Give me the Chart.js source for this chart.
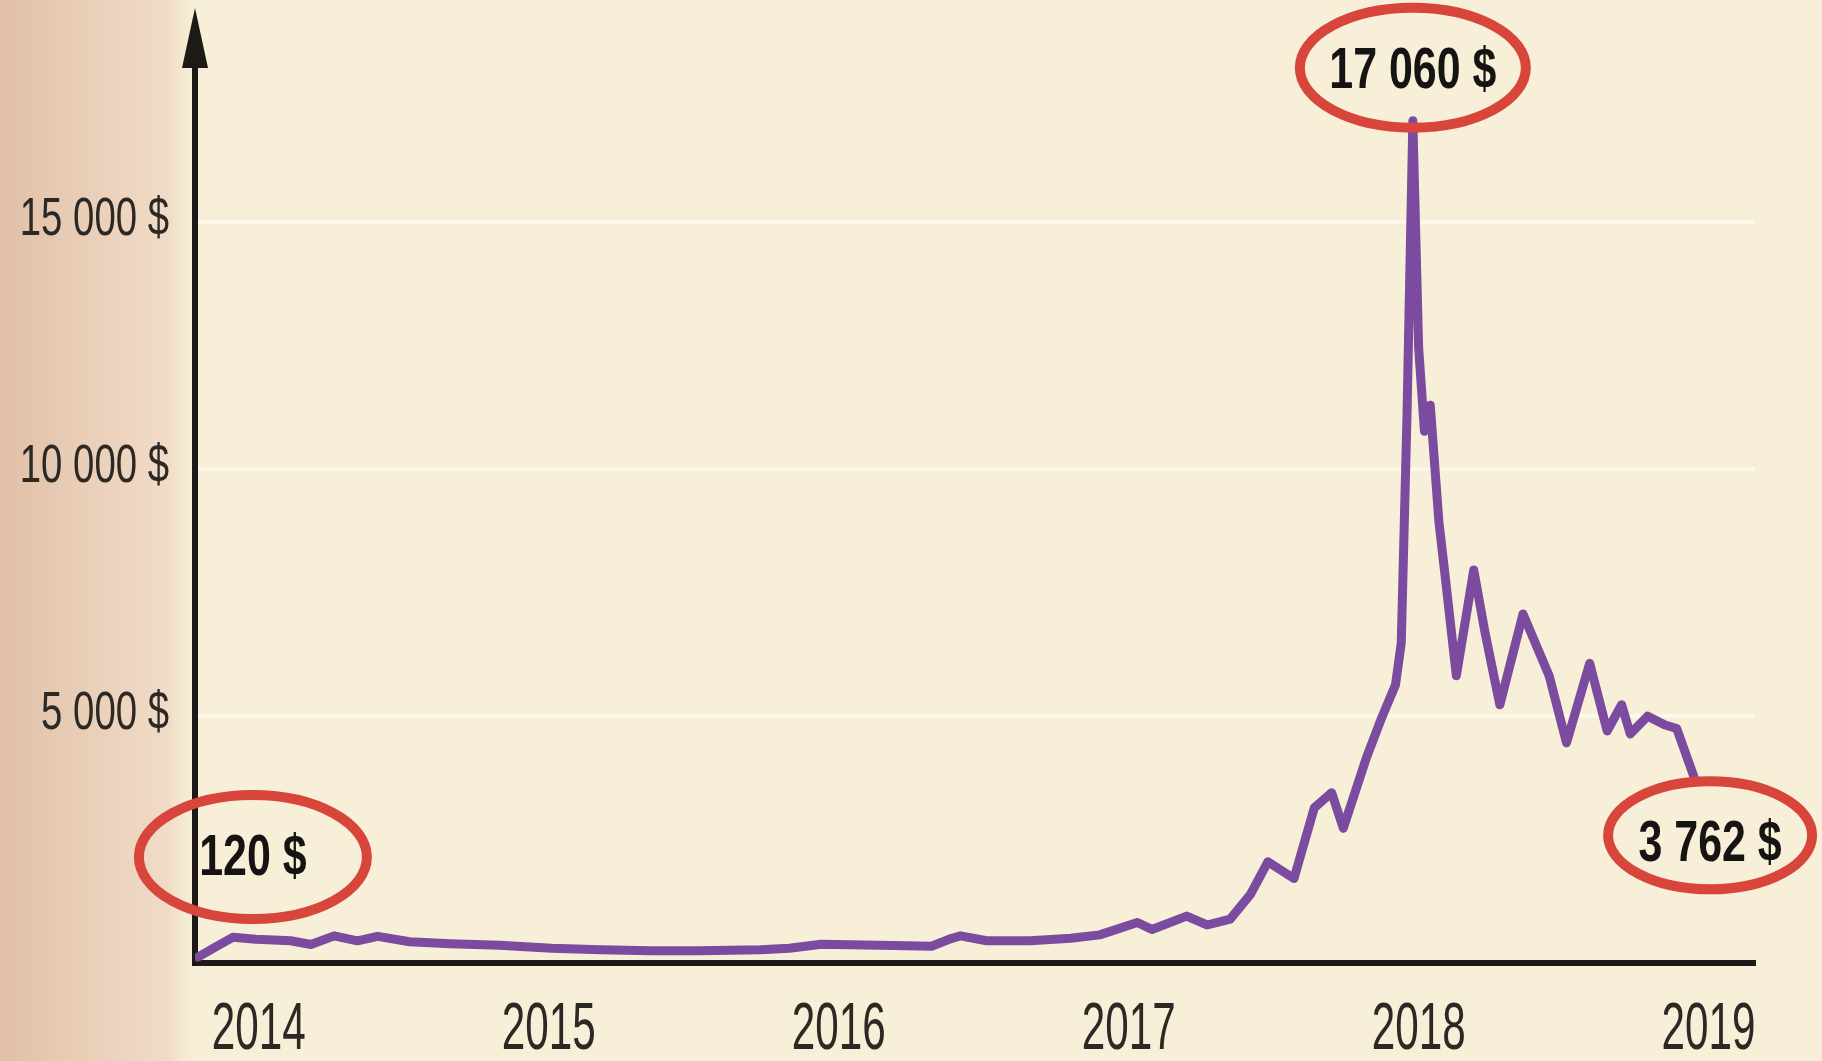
<!DOCTYPE html>
<html lang="fr">
<head>
<meta charset="utf-8">
<title>Cours du bitcoin 2014-2019</title>
<script src="https://cdn.jsdelivr.net/npm/chart.js@4.4.1/dist/chart.umd.min.js"></script>
<style>
  html, body { margin: 0; padding: 0; background: #f7efd7; overflow: hidden; }
  canvas { display: block; }
</style>
</head>
<body>
<canvas id="chart" width="1822" height="1061"></canvas>
<script>
// Bitcoin price in dollars, weekly-ish readings (decimal year)
const years = [
  2013.79, 2013.85, 2013.91, 2013.99, 2014.11, 2014.18, 2014.26, 2014.34, 2014.41, 2014.52,
  2014.66, 2014.83, 2015.01, 2015.18, 2015.35, 2015.52, 2015.73, 2015.83, 2015.94, 2016.14,
  2016.32, 2016.39, 2016.42, 2016.51, 2016.66, 2016.80, 2016.90, 2017.03, 2017.08, 2017.20,
  2017.27, 2017.35, 2017.42, 2017.48, 2017.57, 2017.64, 2017.70, 2017.74, 2017.82, 2017.87,
  2017.92, 2017.94, 2017.95, 2017.96, 2017.98, 2018.00, 2018.02, 2018.04, 2018.07, 2018.09,
  2018.13, 2018.19, 2018.23, 2018.28, 2018.36, 2018.45, 2018.51, 2018.59, 2018.65, 2018.70,
  2018.73, 2018.79, 2018.85, 2018.89, 2018.95
];
const prices = [
  120, 320, 520, 480, 450, 375, 550, 450, 540, 430,
  390, 360, 300, 270, 250, 250, 270, 300, 380, 360,
  340, 500, 550, 450, 450, 500, 570, 820, 680, 950,
  770, 890, 1390, 2050, 1710, 3140, 3450, 2730, 4160, 4930,
  5630, 6480, 8800, 11130, 17060, 12460, 10770, 11300, 8930, 7910,
  5820, 7960, 6660, 5230, 7070, 5820, 4460, 6070, 4700, 5230,
  4640, 5000, 4820, 4750, 3762
];

const yearTicks = [2014, 2015, 2016, 2017, 2018, 2019];
const priceTicks = [5000, 10000, 15000];

// Circled values: start, top and last point of the series
const calloutText = ['120 $', '17 060 $', '3 762 $'];

const FONT = "'Liberation Sans', Arial, sans-serif";
const INK = '#2c2824';
const AXIS = '#1c1917';

const formatDollars = v => String(v).replace(/\B(?=(\d{3})+(?!\d))/g, ' ') + ' $';

// Condensed lettering: the installed faces are too wide, so squeeze them
function drawNarrowText(ctx, text, x, y, squeeze, align) {
  ctx.save();
  ctx.translate(x, y);
  ctx.scale(squeeze, 1);
  ctx.textAlign = align;
  ctx.textBaseline = 'middle';
  ctx.fillText(text, 0, 0);
  ctx.restore();
}

// Paper tone with the darker strip along the left margin
const paperPlugin = {
  id: 'paper',
  beforeDraw(chart) {
    const { ctx, width, height } = chart;
    ctx.save();
    ctx.fillStyle = '#f7efd7';
    ctx.fillRect(0, 0, width, height);
    const edge = ctx.createLinearGradient(0, 0, 200, 0);
    edge.addColorStop(0, '#e0c0a7');
    edge.addColorStop(0.45, '#eacfb9');
    edge.addColorStop(0.85, '#f1dcc7');
    edge.addColorStop(1, 'rgba(247, 239, 215, 0)');
    ctx.fillStyle = edge;
    ctx.fillRect(0, 0, 200, height);
    ctx.restore();
  }
};

// Axis lettering, arrow head and the red rings round the key values
const calloutPlugin = {
  id: 'callouts',
  afterDraw(chart) {
    const { ctx, chartArea, scales: { x, y } } = chart;

    ctx.save();
    ctx.fillStyle = INK;
    ctx.font = `54px ${FONT}`;
    priceTicks.forEach(v => {
      drawNarrowText(ctx, formatDollars(v), chartArea.left - 26, y.getPixelForValue(v) - 2, 0.71, 'right');
    });
    ctx.font = `66px ${FONT}`;
    yearTicks.forEach(v => {
      drawNarrowText(ctx, String(v), x.getPixelForValue(v), chartArea.bottom + 68, 0.64, 'center');
    });

    ctx.fillStyle = AXIS;
    ctx.beginPath();
    ctx.moveTo(chartArea.left, 8);
    ctx.lineTo(chartArea.left - 13, 68);
    ctx.lineTo(chartArea.left + 13, 68);
    ctx.closePath();
    ctx.fill();

    const last = prices.length - 1;
    const top = prices.indexOf(Math.max(...prices));
    const rings = [
      { index: 0, dx: 55, dy: -100, rx: 114, ry: 62, ty: 2 },
      { index: top, dx: 0, dy: -53, rx: 113, ry: 60, ty: 4 },
      { index: last, dx: 16, dy: 58, rx: 102, ry: 54, ty: 10 }
    ];

    rings.forEach((r, i) => {
      const px = x.getPixelForValue(years[r.index]);
      const py = y.getPixelForValue(prices[r.index]);
      const cx = px + r.dx;
      const cy = py + r.dy;

      ctx.strokeStyle = '#d8463b';
      ctx.lineWidth = 10;
      ctx.beginPath();
      ctx.ellipse(cx, cy, r.rx, r.ry, 0, 0, Math.PI * 2);
      ctx.stroke();

      ctx.fillStyle = '#161412';
      ctx.font = `bold 58px ${FONT}`;
      drawNarrowText(ctx, calloutText[i], cx, cy + r.ty, 0.74, 'center');
    });
    ctx.restore();
  }
};

new Chart(document.getElementById('chart'), {
  type: 'line',
  data: {
    datasets: [{
      label: 'Bitcoin',
      data: years.map((yr, i) => ({ x: yr, y: prices[i] })),
      borderColor: '#7a4b9e',
      borderWidth: 9,
      borderJoinStyle: 'round',
      borderCapStyle: 'round',
      pointRadius: 0,
      tension: 0,
      fill: false
    }]
  },
  options: {
    responsive: false,
    devicePixelRatio: 1,
    animation: false,
    layout: { padding: { top: 25, right: 67, bottom: 0, left: 0 } },
    plugins: {
      legend: { display: false },
      tooltip: { enabled: false }
    },
    scales: {
      x: {
        type: 'linear',
        min: 2013.78,
        max: 2019.16,
        afterBuildTicks: scale => {
          scale.ticks = yearTicks.map(v => ({ value: v }));
        },
        afterFit: scale => {
          scale.height = 98;
        },
        ticks: { display: false },
        grid: { display: false, drawTicks: false },
        border: { display: true, color: AXIS, width: 6 }
      },
      y: {
        min: 0,
        max: 19000,
        afterBuildTicks: scale => {
          scale.ticks = [0, ...priceTicks].map(v => ({ value: v }));
        },
        afterFit: scale => {
          scale.width = 195;
        },
        ticks: { display: false },
        grid: {
          drawTicks: false,
          lineWidth: 4,
          color: c => (c.tick && c.tick.value === 0 ? 'rgba(0,0,0,0)' : '#fcf8ea')
        },
        border: { display: true, color: AXIS, width: 6 }
      }
    }
  },
  plugins: [paperPlugin, calloutPlugin]
});
</script>
</body>
</html>
